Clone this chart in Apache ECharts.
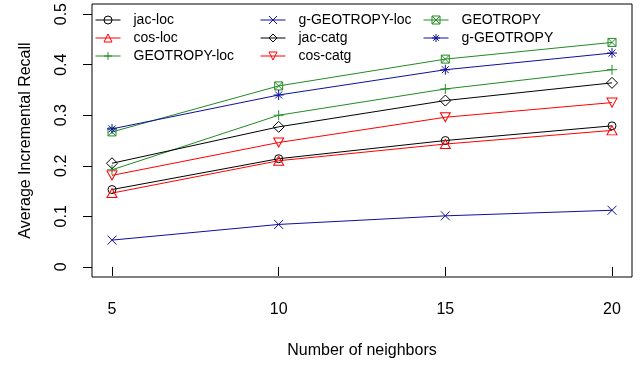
<!DOCTYPE html>
<html>
<head>
<meta charset="utf-8">
<script src="https://cdn.jsdelivr.net/npm/echarts@6/dist/echarts.min.js"></script>
<style>html,body{margin:0;padding:0;background:#fff}#c{width:642px;height:367px}</style>
</head>
<body>
<div id="c"></div>
<script>
var neighbors = [5, 10, 15, 20];
var xTicks = [5, 10, 15, 20];
var yTicks = [0, 0.1, 0.2, 0.3, 0.4, 0.5];
var seriesNames = ['jac-loc', 'cos-loc', 'GEOTROPY-loc', 'g-GEOTROPY-loc', 'jac-catg', 'cos-catg', 'GEOTROPY', 'g-GEOTROPY'];
var jacLoc = [0.153, 0.214, 0.250, 0.279];
var cosLoc = [0.146, 0.210, 0.243, 0.270];
var geotropyLoc = [0.192, 0.300, 0.352, 0.390];
var gGeotropyLoc = [0.053, 0.084, 0.101, 0.112];
var jacCatg = [0.205, 0.277, 0.329, 0.364];
var cosCatg = [0.181, 0.246, 0.296, 0.325];
var geotropy = [0.267, 0.358, 0.411, 0.444];
var gGeotropy = [0.273, 0.340, 0.390, 0.423];

var values = [jacLoc, cosLoc, geotropyLoc, gGeotropyLoc, jacCatg, cosCatg, geotropy, gGeotropy];
var BLACK = '#000000', RED = '#ff0000', GREEN = '#228b22', BLUE = '#0f0f9e';
var colors = [BLACK, RED, GREEN, BLUE, BLACK, RED, GREEN, BLUE];
var symbols = [
  'circle',
  'triangle',
  'path://M5 0 L5 10 M0 5 L10 5',
  'path://M0 0 L10 10 M10 0 L0 10',
  'diamond',
  'path://M0 0 L10 0 L5 9 Z',
  'path://M0 0 L10 0 L10 10 L0 10 Z M0 0 L10 10 M10 0 L0 10',
  'path://M5 0 L5 10 M0 5 L10 5 M1.5 1.5 L8.5 8.5 M8.5 1.5 L1.5 8.5'
];
var sizes = [8, [10, 9], 10, 9, 11, [10, 9], 8, 10];

var series = seriesNames.map(function (name, i) {
  return {
    name: name,
    type: 'line',
    data: neighbors.map(function (x, j) { return [x, values[i][j]]; }),
    symbol: symbols[i],
    symbolSize: sizes[i],
    showAllSymbol: true,
    color: colors[i],
    lineStyle: { color: colors[i], width: 1 },
    itemStyle: { color: 'none', borderColor: colors[i], borderWidth: 1 },
    emphasis: { disabled: true },
    animation: false,
    z: 3
  };
});

function legendCol(names, left) {
  return {
    data: names,
    orient: 'vertical',
    left: left,
    top: 13,
    itemWidth: 25,
    itemHeight: 10,
    itemGap: 4,
    padding: 0,
    selectedMode: false,
    itemStyle: { borderWidth: 1 },
    lineStyle: { width: 1 },
    textStyle: { fontFamily: 'Liberation Sans', fontSize: 14, lineHeight: 14, color: '#000', padding: [0, 0, 0, 8] }
  };
}

var chart = echarts.init(document.getElementById('c'), null, { renderer: 'canvas' });
chart.setOption({
  backgroundColor: '#fff',
  animation: false,
  legend: [
    legendCol(seriesNames.slice(0, 3), 95),
    legendCol(seriesNames.slice(3, 6), 260),
    legendCol(seriesNames.slice(6, 8), 423)
  ],
  grid: { left: 92, right: 10, top: 3, bottom: 90, show: true, borderColor: '#000', borderWidth: 1, backgroundColor: 'transparent' },
  xAxis: {
    type: 'value',
    min: 4.4, max: 20.6,
    name: 'Number of neighbors',
    nameLocation: 'middle',
    nameGap: 66,
    nameTextStyle: { fontFamily: 'Liberation Sans', fontSize: 16, color: '#000' },
    axisLine: { show: false },
    axisTick: { show: true, length: 9, customValues: xTicks, lineStyle: { color: '#000' } },
    axisLabel: { customValues: xTicks, margin: 25, fontFamily: 'Liberation Sans', fontSize: 16, color: '#000' },
    splitLine: { show: false }
  },
  yAxis: {
    type: 'value',
    min: -0.02, max: 0.52,
    name: 'Average Incremental Recall',
    nameLocation: 'middle',
    nameGap: 58,
    nameTextStyle: { fontFamily: 'Liberation Sans', fontSize: 16, color: '#000' },
    axisLine: { show: false },
    axisTick: { show: true, length: 9, customValues: yTicks, lineStyle: { color: '#000' } },
    axisLabel: { customValues: yTicks, rotate: 90, margin: 22, fontFamily: 'Liberation Sans', fontSize: 16, color: '#000',
      formatter: function (v) { return String(Math.round(v * 10) / 10); } },
    splitLine: { show: false }
  },
  series: series
});
</script>
</body>
</html>
